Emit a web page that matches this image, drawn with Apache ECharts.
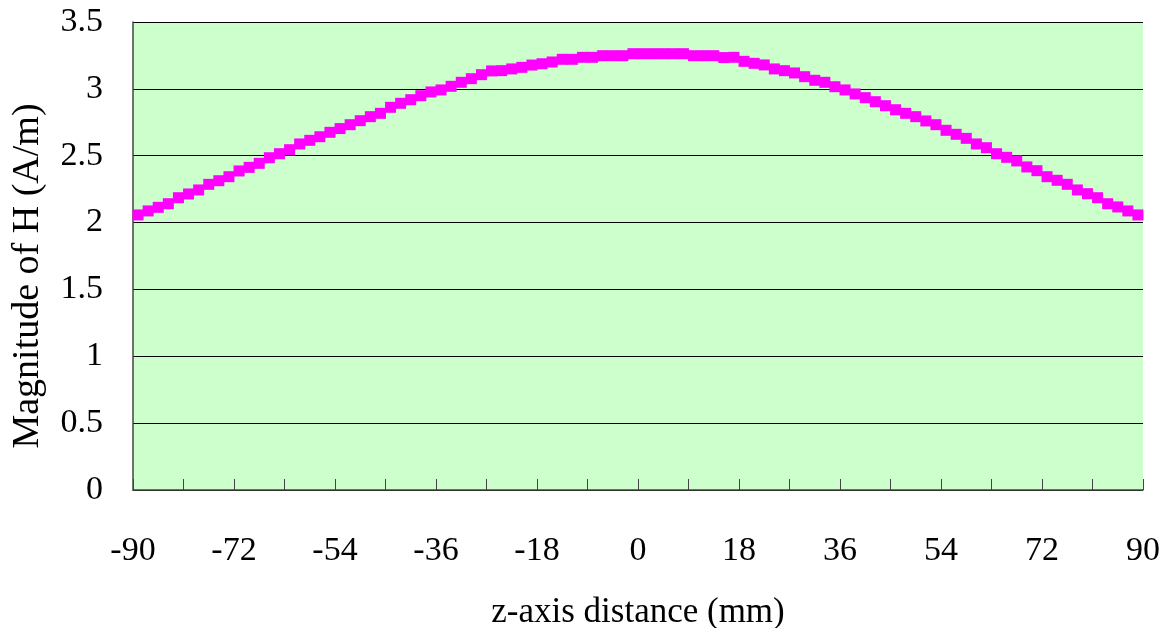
<!DOCTYPE html>
<html lang="en" style="height: 100%">
<head>
  <meta charset="utf-8">
  <title>magnitude_of_h</title>
  <script src="https://cdn.jsdelivr.net/npm/echarts@6/dist/echarts.min.js"></script>
  <style>
    html, body { height: 100%; margin: 0; background: #fff; }
  </style>
</head>
<body>
  <div id="container" style="width: 1161px; height: 628px"></div>
  <script type="text/javascript">
    // z positions (mm): 100 samples, centred in 1.8 mm bins from -90 to 90
    var zStart = -89.1;
    var zStep = 1.8;
    // |H| (A/m)
    var hValues = [
      2.057, 2.087, 2.114, 2.141, 2.186, 2.214, 2.244, 2.286, 2.313, 2.343,
      2.386, 2.413, 2.443, 2.485, 2.515, 2.545, 2.588, 2.615, 2.642, 2.675,
      2.703, 2.732, 2.762, 2.792, 2.817, 2.862, 2.892, 2.919, 2.949, 2.977,
      2.992, 3.019, 3.049, 3.076, 3.106, 3.134, 3.136, 3.149, 3.161, 3.178,
      3.188, 3.201, 3.221, 3.221, 3.236, 3.236, 3.248, 3.248, 3.248, 3.263,
      3.263, 3.263, 3.263, 3.263, 3.263, 3.248, 3.248, 3.248, 3.234, 3.236,
      3.206, 3.191, 3.179, 3.149, 3.136, 3.119, 3.091, 3.064, 3.049, 3.016,
      2.992, 2.962, 2.934, 2.904, 2.874, 2.844, 2.817, 2.792, 2.760, 2.732,
      2.690, 2.660, 2.630, 2.588, 2.560, 2.515, 2.488, 2.461, 2.416, 2.388,
      2.343, 2.316, 2.286, 2.244, 2.216, 2.186, 2.141, 2.117, 2.087, 2.057
    ];
    var xTicks = [-90, 90, 9];   // min, max, tick step (labels every 18)
    var yTicks = [0, 3.5, 0.5];

    var points = hValues.map(function (v, i) {
      return [+(zStart + i * zStep).toFixed(1), v];
    });

    var font = '"Liberation Serif", "Times New Roman", serif';
    var myChart = echarts.init(document.getElementById('container'), null, { renderer: 'canvas' });
    var option = {
      animation: false,
      grid: {
        left: 133, right: 18, top: 22, bottom: 138,
        outerBoundsMode: 'none',
        containLabel: false,
        show: true, backgroundColor: '#ccffcc', borderWidth: 0
      },
      xAxis: {
        type: 'value',
        min: xTicks[0], max: xTicks[1], interval: xTicks[2],
        name: 'z-axis distance (mm)',
        nameLocation: 'middle',
        nameGap: 105,
        nameTextStyle: { fontFamily: font, fontSize: 35, color: '#000' },
        axisLine: { show: true, onZero: false, lineStyle: { color: '#444', width: 1.5 } },
        axisTick: { show: true, inside: true, length: 11, lineStyle: { color: '#444' } },
        axisLabel: {
          margin: 44, fontFamily: font, fontSize: 34, color: '#000',
          formatter: function (v) { return v % 18 === 0 ? String(v) : ''; }
        },
        splitLine: { show: false }
      },
      yAxis: {
        type: 'value',
        min: yTicks[0], max: yTicks[1], interval: yTicks[2],
        name: 'Magnitude of H (A/m)',
        nameLocation: 'middle',
        nameGap: 86,
        // title sits a little below the plot's middle in the original
        nameTextStyle: { fontFamily: font, fontSize: 38, color: '#000', padding: [0, 40, 0, 0] },
        axisLine: { show: true, onZero: false, lineStyle: { color: '#444', width: 1.5 } },
        axisTick: { show: false },
        axisLabel: { margin: 30, fontFamily: font, fontSize: 34, color: '#000' },
        splitLine: { show: true, lineStyle: { color: '#000', width: 1.2 } }
      },
      series: [{
        type: 'line',
        data: points,
        symbol: 'rect',
        symbolSize: 11,
        showAllSymbol: true,
        itemStyle: { color: '#ff00ff' },
        lineStyle: { color: '#ff00ff', width: 3 }
      }]
    };
    myChart.setOption(option);
    window.addEventListener('resize', myChart.resize);
  </script>
</body>
</html>
